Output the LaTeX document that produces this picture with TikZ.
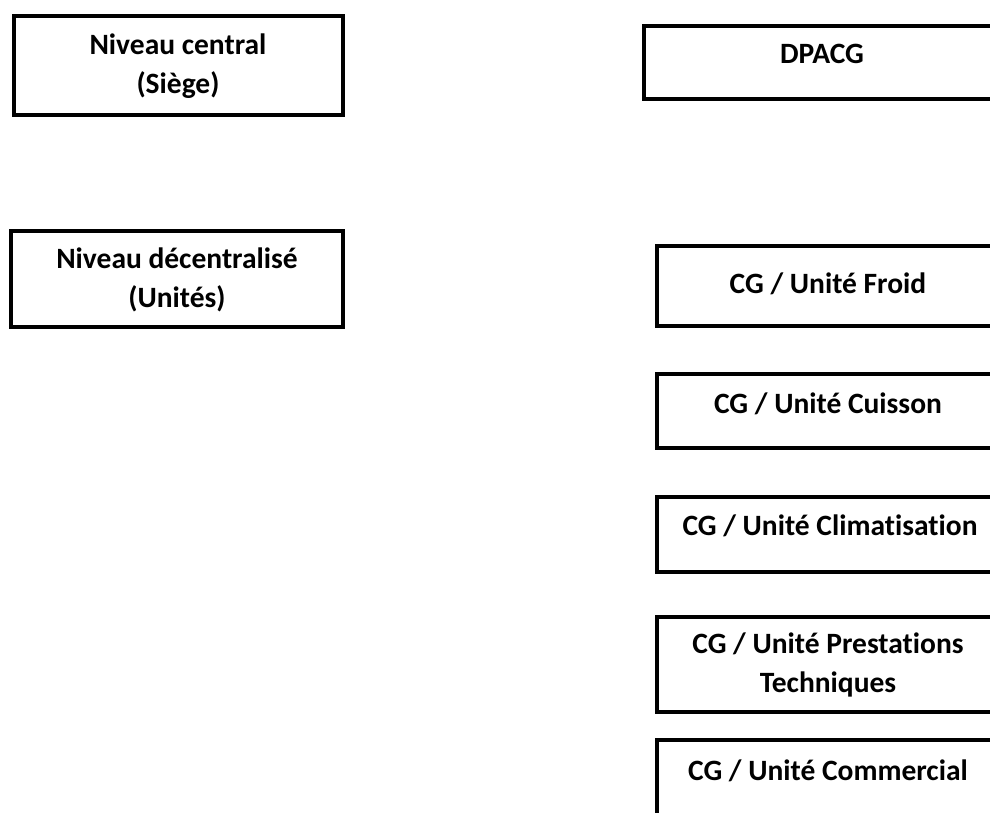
\documentclass[tikz,border=0pt]{standalone}
\usepackage{fontspec}
\setmainfont[Ligatures=NoCommon]{Carlito}
\begin{document}
\begin{tikzpicture}[x=1pt,y=-1pt,
  box/.style={draw=black, line width=3.4pt, rectangle, inner sep=0pt, outer sep=0pt},
  lbl/.style={inner sep=0pt, outer sep=0pt, anchor=base, align=center,
    font=\bfseries\fontsize{29.5}{39}\selectfont}]
\useasboundingbox (0,0) rectangle (990,813);
\clip (0,0) rectangle (990,813);
\fill[white] (0,0) rectangle (990,813);
% left column (multi-line labels are anchored at the baseline of their last line)
\node[box, minimum width=329pt, minimum height=99pt] (central) at (178.5,65.5) {};
\node[lbl] (centralT) at (178,94) {Niveau central\\(Siège)};
\node[box, minimum width=332pt, minimum height=96pt] (decent) at (177,279) {};
\node[lbl] (decentT) at (177,307) {Niveau décentralisé\\(Unités)};
% right column
\node[box, minimum width=357pt, minimum height=73pt] (dpacg) at (822.5,62.5) {};
\node[lbl] (dpacgT) at (822,64) {DPACG};
\node[box, minimum width=344pt, minimum height=80pt] (froid) at (829,286) {};
\node[lbl] (froidT) at (828,293) {CG / Unité Froid};
\node[box, minimum width=344pt, minimum height=74pt] (cuisson) at (829,411) {};
\node[lbl] (cuissonT) at (828,413) {CG / Unité Cuisson};
\node[box, minimum width=344pt, minimum height=75pt] (clim) at (829,534.5) {};
\node[lbl] (climT) at (830,535) {CG / Unité Climatisation};
\node[box, minimum width=344pt, minimum height=95pt] (prest) at (829,664.5) {};
\node[lbl] (prestT) at (828,692) {CG / Unité Prestations\\Techniques};
\node[box, minimum width=344pt, minimum height=90pt] (comm) at (829,785) {};
\node[lbl] (commT) at (828,780) {CG / Unité Commercial};
\end{tikzpicture}
\end{document}
